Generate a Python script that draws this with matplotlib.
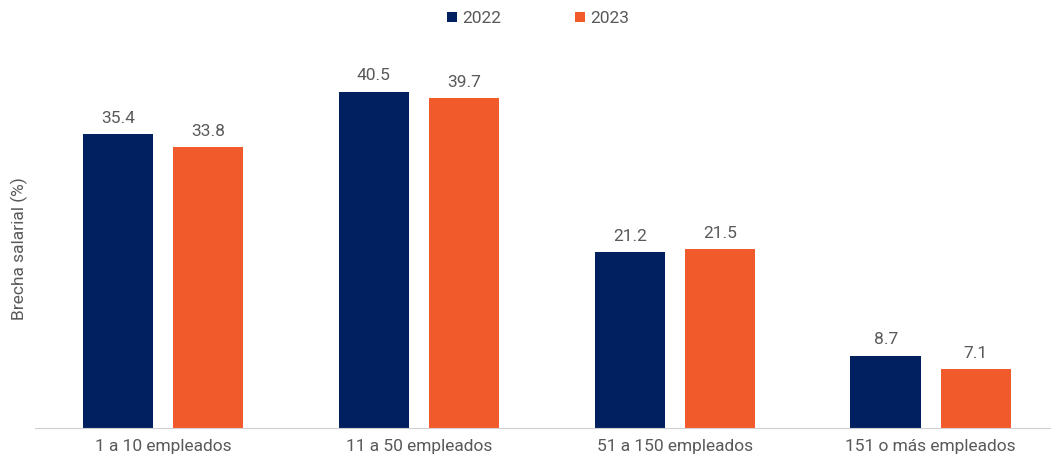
import matplotlib
matplotlib.use("Agg")
import matplotlib.pyplot as plt
import numpy as np

categories = ["1 a 10 empleados", "11 a 50 empleados", "51 a 150 empleados", "151 o más empleados"]
values_2022 = [35.4, 40.5, 21.2, 8.7]
values_2023 = [33.8, 39.7, 21.5, 7.1]
series_names = ["2022", "2023"]

navy = "#002060"
orange = "#F15A2B"
grey = "#595959"

plt.rcParams["font.family"] = ["Roboto", "DejaVu Sans"]

fig = plt.figure(figsize=(10.51, 4.63), dpi=100)
ax = fig.add_axes([35 / 1051, 35 / 463, 1016 / 1051, 382 / 463])

x = np.arange(len(categories))
w = 0.275
off = 0.176
b1 = ax.bar(x - off, values_2022, w, color=navy, label=series_names[0])
b2 = ax.bar(x + off, values_2023, w, color=orange, label=series_names[1])

for bars in (b1, b2):
    for r in bars:
        ax.annotate(f"{r.get_height():.1f}", (r.get_x() + r.get_width() / 2, r.get_height()),
                    xytext=(0, 6), textcoords="offset points", ha="center", va="bottom",
                    fontsize=12.5, color=grey)

ax.set_xlim(-0.5, 3.47)
ax.set_ylim(0, 46)
ax.set_xticks(x)
ax.set_xticklabels(categories, fontsize=12.5, color=grey)
ax.tick_params(axis="x", length=0, pad=8)
ax.set_yticks([])
for s in ["top", "right", "left"]:
    ax.spines[s].set_visible(False)
ax.spines["bottom"].set_color("#d0d0d0")
ax.set_ylabel("Brecha salarial (%)", fontsize=12.5, color=grey)
ax.yaxis.set_label_coords(-0.007, 0.47)

fig.legend(handles=[b1, b2], loc="upper center", bbox_to_anchor=(0.512, 1.01), ncol=2, frameon=False,
           labelcolor=grey, handlelength=0.55, handleheight=0.55, handletextpad=0.3,
           columnspacing=4.3, prop={"size": 12.5})

fig.savefig("out.png", dpi=100)
